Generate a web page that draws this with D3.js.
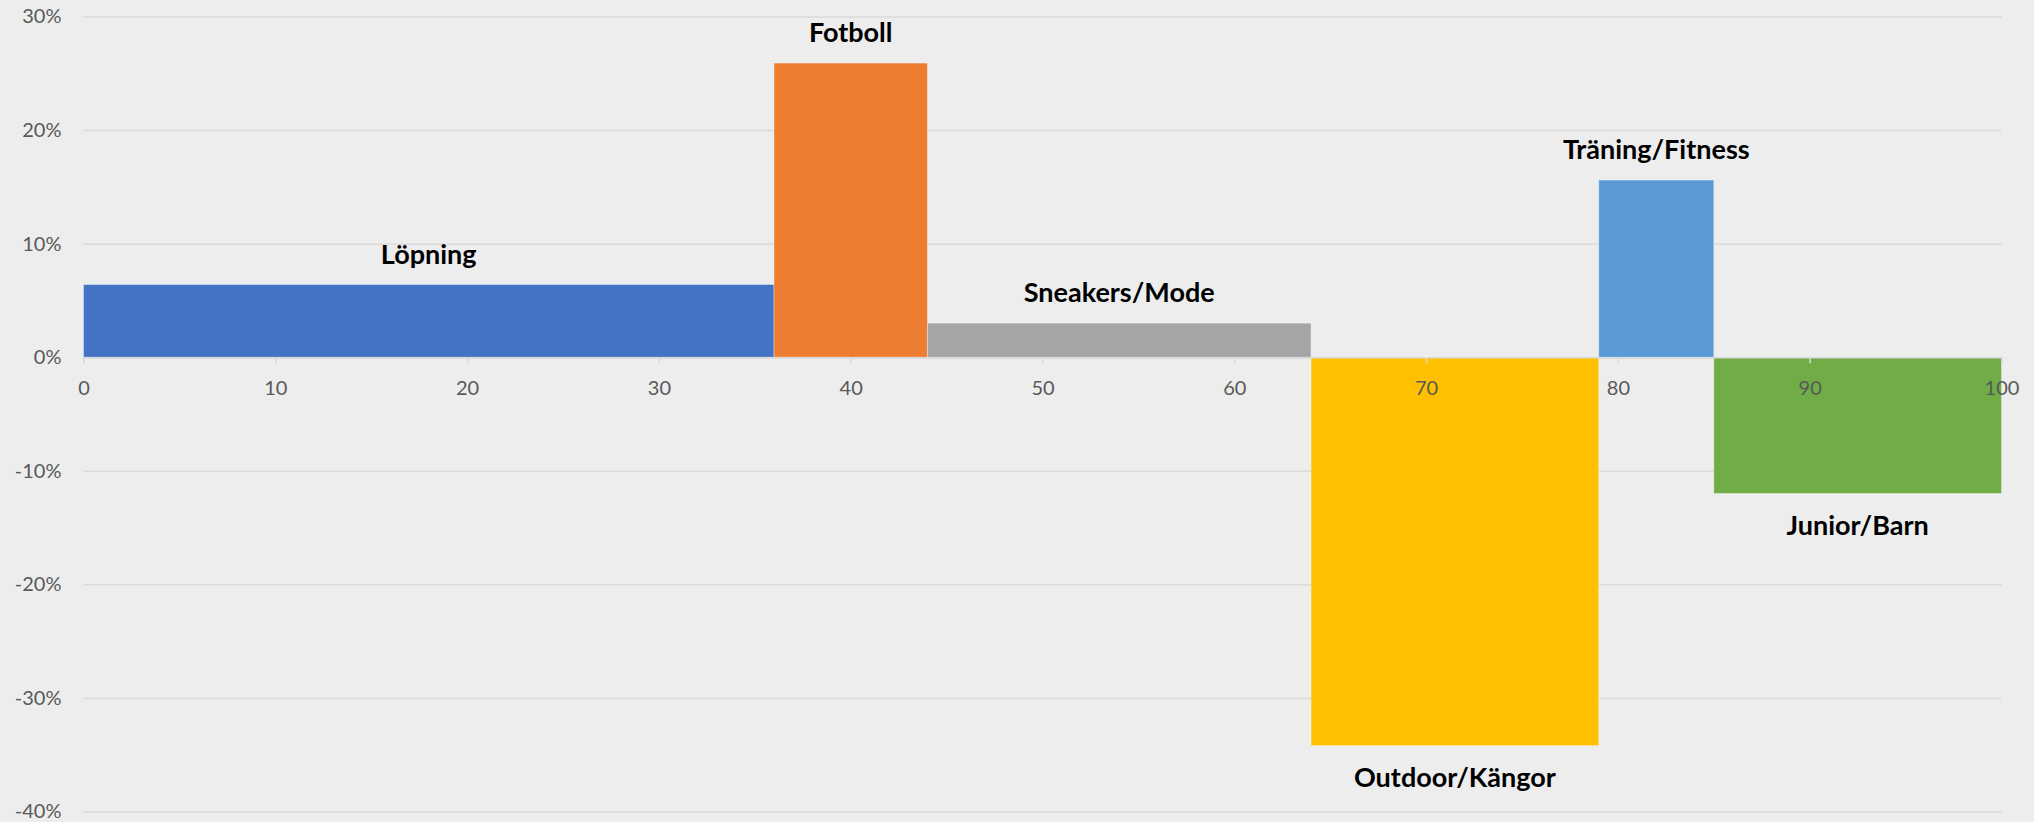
<!DOCTYPE html>
<html>
<head>
<meta charset="utf-8">
<script src="https://cdnjs.cloudflare.com/ajax/libs/d3/7.8.5/d3.min.js"></script>
<style>
  html, body { margin: 0; padding: 0; background: #ededed; }
  svg { display: block; font-family: Lato, "Open Sans", sans-serif; }
  .tick text { fill: #595959; font-size: 20px; font-family: Lato, "Open Sans", sans-serif; }
  .barLabel { font-weight: bold; font-size: 27px; fill: #000; }
</style>
</head>
<body>
<script>
// categories, share of market (bar width) and growth (bar height, %)
var categories = ["Löpning", "Fotboll", "Sneakers/Mode", "Outdoor/Kängor", "Träning/Fitness", "Junior/Barn"];
var shares = [36, 8, 20, 15, 6, 15];
var growth = [6.4, 25.9, 3.0, -34.2, 15.6, -12.0];
var colors = ["#4472c4", "#ed7d31", "#a5a5a5", "#ffc000", "#5b9bd5", "#70ad47"];
var xTicks = [0, 10, 20, 30, 40, 50, 60, 70, 80, 90, 100];
var yTicks = [-40, -30, -20, -10, 0, 10, 20, 30];

var width = 2034,
    height = 822,
    plotLeft = 83.5,
    plotRight = 2001.5,
    plotTop = 16.5,
    plotBottom = 811.5;

var starts = [0].concat(Array.from(d3.cumsum(shares)));
var data = categories.map(function(c, i) {
  return {label: c, x0: starts[i], x1: starts[i + 1], value: growth[i], color: colors[i]};
});

var svg = d3.select("body")
  .append("svg")
  .attr("width", width)
  .attr("height", height);

var x = d3.scaleLinear().domain([0, 100]).range([plotLeft, plotRight]);
var y = d3.scaleLinear().domain([-40, 30]).range([plotBottom, plotTop]);

// gridlines + y labels
var yAxis = svg.append("g")
  .attr("transform", "translate(" + plotLeft + ",0)")
  .call(d3.axisLeft(y)
    .tickValues(yTicks)
    .tickSize(-(plotRight - plotLeft))
    .tickPadding(22)
    .tickFormat(function(d) { return d + "%"; }));
yAxis.select(".domain").remove();
yAxis.selectAll("line").attr("stroke", "#d9d9d9").attr("stroke-width", 1.5);

// bars
var bar = svg.selectAll(".bar")
  .data(data)
  .enter()
  .append("g")
  .attr("class", "bar");

bar.append("rect")
  .attr("x", function(d) { return x(d.x0); })
  .attr("width", function(d) { return x(d.x1) - x(d.x0); })
  .attr("y", function(d) { return y(Math.max(0, d.value)); })
  .attr("height", function(d) { return Math.abs(y(d.value) - y(0)); })
  .attr("fill", function(d) { return d.color; })
  .attr("stroke", "rgba(255,255,255,0.35)")
  .attr("stroke-width", 1);

// x axis on top of bars
var xAxis = svg.append("g")
  .attr("transform", "translate(0," + y(0) + ")")
  .call(d3.axisBottom(x)
    .tickValues(xTicks)
    .tickSize(6)
    .tickPadding(18));
xAxis.select(".domain").attr("stroke", "#d9d9d9").attr("stroke-width", 1.5);
xAxis.selectAll("line").attr("stroke", "#d9d9d9").attr("stroke-width", 1.5);
svg.selectAll(".tick text").attr("font-size", null).attr("font-family", null);

// category labels
bar.append("text")
  .attr("class", "barLabel")
  .attr("text-anchor", "middle")
  .attr("x", function(d) { return x((d.x0 + d.x1) / 2); })
  .attr("y", function(d) {
    return d.value >= 0 ? y(d.value) - 21 : y(d.value) + 41;
  })
  .text(function(d) { return d.label; });
</script>
</body>
</html>
